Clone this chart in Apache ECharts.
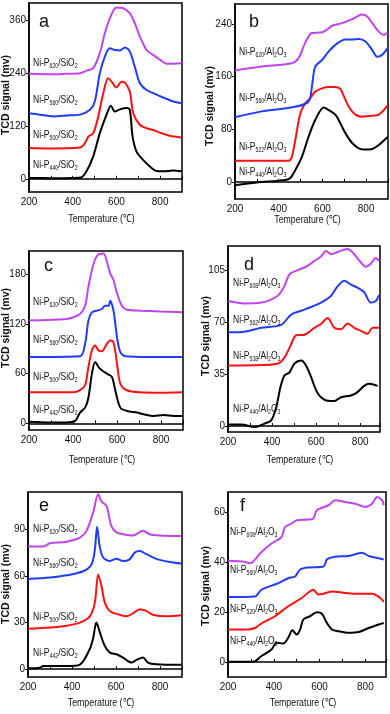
<!DOCTYPE html>
<html>

<head>
    <meta charset="utf-8">
    <script src="https://cdn.jsdelivr.net/npm/echarts@6/dist/echarts.min.js"></script>
    <style>
        html, body { margin: 0; padding: 0; background: #fff; }
        #main { width: 390px; height: 714px; }
    </style>
</head>

<body>
    <div id="main"></div>
    <script type="text/javascript">

        // ---- data: [temperature, signal] ----
        var a440 = [[200,2],[300,1.5],[400,2],[438,3],[463,17],[494,51],[524,104],[555,146],[575,166],[593,153],[616,158],[646,161],[661,157],[674,96],[692,62],[722,43],[753,28],[783,18],[814,17],[860,19],[898,17]];
        var a500 = [[200,70],[300,69],[433,71],[456,81],[471,96],[494,104],[517,142],[540,195],[562,229],[578,221],[600,208],[623,221],[639,219],[661,199],[677,149],[707,123],[738,115],[768,111],[799,105],[844,98],[898,94]];
        var a560 = [[200,149],[250,146],[311,142],[372,144],[433,146],[479,157],[501,176],[524,240],[547,278],[570,297],[593,293],[616,292],[639,299],[661,290],[684,255],[707,218],[738,202],[768,195],[814,185],[860,176],[898,172]];
        var a620 = [[200,239],[300,238],[372,239],[433,240],[463,246],[494,252],[524,286],[547,331],[570,365],[600,390],[631,388],[661,377],[684,354],[707,324],[738,293],[768,282],[799,271],[829,262],[860,262],[898,263]];

        var b440 = [[200,-5],[300,-1],[430,3],[453,6],[476,18],[506,38],[537,69],[567,94],[606,113],[629,109],[659,102],[682,89],[705,74],[736,59],[766,51],[797,49],[828,50],[858,56],[898,68]];
        var b522 = [[200,32],[445,32],[460,38],[476,64],[499,104],[521,119],[544,127],[567,137],[598,142],[629,144],[659,144],[682,141],[698,130],[721,114],[751,102],[782,99],[812,100],[858,102],[898,116]];
        var b560 = [[200,98],[322,107],[476,114],[537,122],[552,145],[567,175],[598,185],[629,198],[659,208],[705,216],[736,216],[766,217],[797,213],[828,200],[851,190],[874,193],[898,203]];
        var b620 = [[200,169],[322,175],[460,180],[491,188],[521,211],[552,226],[598,227],[621,231],[644,237],[690,241],[736,247],[782,254],[805,251],[828,241],[858,228],[881,223],[898,227]];

        var c442 = [[200,2],[296,1],[372,1.2],[410,3],[432,13],[455,19],[470,31],[486,60],[501,74],[516,68],[531,64],[554,60],[577,56],[592,40],[615,19],[645,15],[691,13],[721,11],[767,9],[812,10],[858,9],[896,9]];
        var c500 = [[200,37.5],[402,37.5],[432,40],[455,46],[470,68],[486,88],[501,94],[516,88],[531,87],[554,96],[569,100],[584,98],[600,72],[615,48],[645,40],[706,37.5],[800,37],[896,37.5]];
        var c560 = [[200,80],[432,81],[455,96],[470,124],[486,134],[508,136],[531,138],[546,142],[562,142],[569,148],[584,136],[600,104],[615,86],[638,81],[750,80],[896,80]];
        var c620 = [[200,124],[372,126],[402,128],[432,132],[455,142],[470,165],[494,193],[516,204],[539,205],[554,195],[569,181],[584,173],[600,157],[622,142],[645,137],[706,136],[797,135],[896,134]];

        var d440 = [[200,1],[260,1.1],[321,-0.7],[366,1.6],[396,3.8],[419,12.7],[438,26],[456,34],[479,36],[502,42],[532,44],[554,40.7],[577,33],[600,24],[622,19.4],[652,17],[683,16.8],[713,19.4],[758,20.5],[788,22.8],[818,27],[841,28.4],[879,27]];
        var d538 = [[200,40.7],[351,41],[426,42],[456,46],[487,55],[509,61],[547,61.4],[592,66],[622,68.6],[652,72.6],[683,66],[713,65],[743,69],[773,66],[803,64],[833,62],[856,66],[886,66]];
        var d562 = [[200,63],[275,63.4],[351,66],[441,68],[487,75],[532,77.5],[577,80],[622,83],[668,87.6],[698,94],[728,97.6],[758,95],[788,93],[818,90],[848,83],[871,84],[886,88]];
        var d608 = [[200,84],[275,82.4],[351,83],[426,87.6],[456,94],[479,102],[517,104.8],[562,107.7],[592,111],[622,114],[645,117.7],[668,115.5],[698,117],[743,119],[773,115.5],[803,110],[826,107],[848,109],[870,113],[886,111]];

        var e442 = [[200,0.6],[254,1],[270,2],[375,2],[436,3],[481,13],[496,20],[511,30],[526,24],[549,15],[572,10.7],[602,9.6],[632,7.5],[670,4.3],[693,6],[723,7.5],[745,4.3],[783,3.2],[897,2.8]];
        var e500 = [[200,26],[300,26.8],[375,28],[436,30],[481,34],[504,43],[519,61],[534,53.6],[549,43],[572,37.5],[617,35],[647,34],[677,36],[708,38.6],[738,37.5],[768,35],[828,34],[897,34.7]];
        var e560 = [[200,58],[300,59],[375,60.4],[451,63],[489,67.5],[504,77],[514,91.7],[526,79],[541,72],[572,69.6],[602,71],[632,69.6],[662,70.7],[685,75],[708,76],[738,74],[783,71],[844,69],[897,68]];
        var e620 = [[200,79],[270,79],[300,81],[375,82],[436,84.6],[466,89],[496,100.7],[519,112.5],[534,108],[557,105],[579,92],[602,88],[632,86.8],[677,86],[723,89],[753,86.8],[798,86],[897,85.7]];

        var f440 = [[200,0.1],[310,0.1],[346,2.4],[390,5],[412,7.7],[441,7.4],[463,9.7],[481,12.7],[500,11],[515,13],[529,17],[558,18.3],[588,19.9],[610,19.3],[632,15.6],[654,13],[683,12.3],[727,11.7],[771,12],[815,13.6],[858,15],[880,15.6]];
        var f520 = [[200,13],[288,13],[317,13.6],[346,15.4],[405,18.3],[463,22.3],[522,25.6],[573,28.9],[595,27],[617,27.3],[654,28.2],[697,27.8],[756,27.3],[829,27.3],[866,25.6],[880,24]];
        var f560 = [[200,26],[317,26.2],[346,28.9],[419,31.5],[463,33.5],[493,34.2],[515,37],[551,37.8],[617,38.2],[632,41],[668,42.1],[727,42.4],[785,43.7],[815,42.4],[858,41.5],[880,41]];
        var f608 = [[200,40.5],[273,40.1],[295,39.5],[346,44],[390,47.4],[434,50],[449,54],[478,55.4],[500,56.7],[551,57],[573,57.4],[588,60.7],[639,62.7],[668,64.7],[712,64],[756,63.3],[800,62],[829,63.3],[851,66],[873,64.7],[880,62.7]];

        // sample names (subscript of P), bottom curve first
        var aNames = ['440', '500', '560', '620'];
        var bNames = ['440', '522', '560', '620'];
        var cNames = ['442', '500', '560', '620'];
        var dNames = ['440', '538', '562', '608'];
        var eNames = ['442', '500', '560', '620'];
        var fNames = ['440', '520', '560', '608'];

        // tick labels
        var xTicks = [200, 400, 600, 800];
        var aYTicks = [0, 120, 240, 360];
        var bYTicks = [0, 80, 160, 240];
        var cYTicks = [0, 60, 120, 180];
        var dYTicks = [0, 35, 70, 105];
        var eYTicks = [0, 30, 60, 90];
        var fYTicks = [0, 20, 40, 60];

        var colors = ['#000000', '#ff1010', '#1f3cff', '#c044f0'];

        var panels = [
            { letter: 'a', sup: 'Si', data: [a440, a500, a560, a620], names: aNames, yTicks: aYTicks, ymin: -30, ymax: 400, xmax: 900,
              grid: { left: 29, top: 3, width: 153, height: 189 }, labY: [165, 135, 100, 63], labX: 33, letterXY: [39, 13], yTitle: [6, 95], xTitleY: 219 },
            { letter: 'b', sup: 'Al', data: [b440, b522, b560, b620], names: bNames, yTicks: bYTicks, ymin: -26, ymax: 270, xmax: 900,
              grid: { left: 235, top: 4, width: 153, height: 195 }, labY: [172, 147, 98, 52], labX: 239, letterXY: [249, 13], yTitle: [210, 106], xTitleY: 220 },
            { letter: 'c', sup: 'Si', data: [c442, c500, c560, c620], names: cNames, yTicks: cYTicks, ymin: -8, ymax: 208, xmax: 900,
              grid: { left: 29, top: 251, width: 154, height: 179 }, labY: [410, 377, 340, 302], labX: 33, letterXY: [44, 257], yTitle: [6, 328], xTitleY: 460 },
            { letter: 'd', sup: 'Al', data: [d440, d538, d562, d608], names: dNames, yTicks: dYTicks, ymin: -4, ymax: 121, xmax: 890,
              grid: { left: 228, top: 246, width: 152, height: 186 }, labY: [409, 356, 320, 283], labX: 233, letterXY: [244, 256], yTitle: [206, 336], xTitleY: 460 },
            { letter: 'e', sup: 'Si', data: [e442, e500, e560, e620], names: eNames, yTicks: eYTicks, ymin: -5, ymax: 114, xmax: 900,
              grid: { left: 28, top: 492, width: 154, height: 185 }, labY: [653, 617, 563, 529], labX: 33, letterXY: [39, 497], yTitle: [6, 584], xTitleY: 703 },
            { letter: 'f', sup: 'Al', data: [f440, f520, f560, f608], names: fNames, yTicks: fYTicks, ymin: -6, ymax: 68, xmax: 890,
              grid: { left: 228, top: 492, width: 158, height: 185 }, labY: [641, 609, 570, 532], labX: 230, letterXY: [240, 497], yTitle: [206, 586], xTitleY: 703 }
        ];

        var sans = '"Liberation Sans", Arial, sans-serif';
        var grids = [], xAxes = [], yAxes = [], series = [], graphics = [];

        panels.forEach(function (p, i) {
            grids.push(Object.assign({ show: true, borderColor: '#000', borderWidth: 1.5, backgroundColor: '#fff' }, p.grid));
            xAxes.push({
                type: 'value', gridIndex: i, min: 200, max: p.xmax, interval: 100,
                axisLine: { show: true, lineStyle: { color: '#000', width: 1.5 } },
                axisTick: { show: true, inside: true, length: 3, lineStyle: { color: '#000' } },
                axisLabel: { customValues: xTicks, fontFamily: sans, fontSize: 10, color: '#111', margin: 5 },
                splitLine: { show: false }
            });
            yAxes.push({
                type: 'value', gridIndex: i, min: p.ymin, max: p.ymax,
                axisLine: { show: true, lineStyle: { color: '#000', width: 1.5 } },
                axisTick: { show: true, length: 3, customValues: p.yTicks, lineStyle: { color: '#000' } },
                axisLabel: { customValues: p.yTicks, fontFamily: sans, fontSize: 10, color: '#111', margin: 3 },
                splitLine: { show: false }
            });
            p.data.forEach(function (d, k) {
                series.push({
                    type: 'line', xAxisIndex: i, yAxisIndex: i, data: d,
                    showSymbol: false, smooth: 0.3, silent: true,
                    lineStyle: { color: colors[k], width: 2 }
                });
            });
            p.names.forEach(function (n, k) {
                var txt = p.sup === 'Si'
                    ? '{n|Ni-P}{s|' + n + '}{n|/SiO}{s|2}'
                    : '{n|Ni-P}{s|' + n + '}{n|/Al}{s|2}{n|O}{s|3}';
                graphics.push({
                    type: 'text', x: p.labX, y: p.labY[k], z: 10, scaleX: 0.74,
                    style: {
                        text: txt, verticalAlign: 'middle', fill: '#111',
                        rich: {
                            n: { fontFamily: sans, fontSize: 11.5, lineHeight: 14, verticalAlign: 'middle' },
                            s: { fontFamily: sans, fontSize: 7, lineHeight: 14, verticalAlign: 'bottom', padding: [6, 0, 0, 0] }
                        }
                    }
                });
            });
            // panel letter
            graphics.push({
                type: 'text', x: p.letterXY[0], y: p.letterXY[1], z: 10,
                style: { text: p.letter, fontFamily: sans, fontSize: 18, fill: '#111' }
            });
            // axis titles
            graphics.push({
                type: 'text', x: p.grid.left + p.grid.width / 2 - 4, y: p.xTitleY, z: 10, scaleX: 0.8,
                style: { text: 'Temperature (\u2103)', fontFamily: sans, fontSize: 11, fill: '#111', align: 'center', verticalAlign: 'middle' }
            });
            graphics.push({
                type: 'text', x: p.yTitle[0], y: p.yTitle[1], z: 10, rotation: Math.PI / 2,
                style: { text: 'TCD signal (mv)', fontFamily: sans, fontSize: 10.5, fontWeight: 'bold', fill: '#111', align: 'center', verticalAlign: 'middle' }
            });
        });

        var myChart = echarts.init(document.getElementById('main'));
        myChart.setOption({
            animation: false,
            backgroundColor: '#fff',
            grid: grids,
            xAxis: xAxes,
            yAxis: yAxes,
            series: series,
            graphic: graphics
        });
    </script>
</body>

</html>
